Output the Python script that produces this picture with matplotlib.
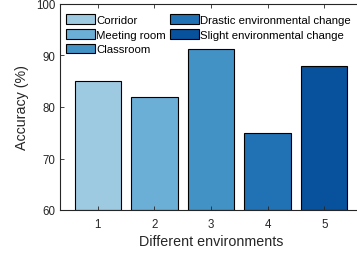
import numpy as np
import matplotlib.pyplot as plt

plt.rcParams['font.family'] = ['Liberation Sans', 'DejaVu Sans']

envs = [1, 2, 3, 4, 5]
accuracy = [85, 82, 91.2, 75, 88]
labels = ['Corridor', 'Meeting room', 'Classroom',
          'Drastic environmental change', 'Slight environmental change']
colors = ['#9ecae1', '#6baed6', '#4292c6', '#2171b5', '#08519c']

fig = plt.figure(figsize=(3.57, 2.55), dpi=100)
ax = fig.add_axes([60 / 357, 44 / 255, 302 / 357, 206 / 255])

for x, y, c, lab in zip(envs, accuracy, colors, labels):
    ax.bar(x, y - 60, bottom=60, width=0.82, color=c, edgecolor='black',
           linewidth=0.8, label=lab)

ax.set_xlim(0.333, 5.667)
ax.set_ylim(60, 100)
ax.set_xticks(envs)
ax.set_yticks([60, 70, 80, 90, 100])
ax.tick_params(direction='in', top=True, right=True, labelsize=8.3,
               length=3, width=0.6, colors='#262626')
ax.tick_params(axis='x', pad=6)
for s in ax.spines.values():
    s.set_linewidth(0.8)
    s.set_color('#262626')
ax.set_xlabel('Different environments', fontsize=10.3, color='#262626', labelpad=3)
ax.set_ylabel('Accuracy (%)', fontsize=10.3, color='#262626', labelpad=5)

ax.legend(loc='upper left', ncol=2, frameon=False, fontsize=8.2,
          handlelength=2.5, handleheight=0.95, handletextpad=0.1,
          columnspacing=0.4, labelspacing=0.33, borderaxespad=0.25,
          borderpad=0.3, bbox_to_anchor=(0.0, 0.98))

fig.savefig('out.png', dpi=100)
